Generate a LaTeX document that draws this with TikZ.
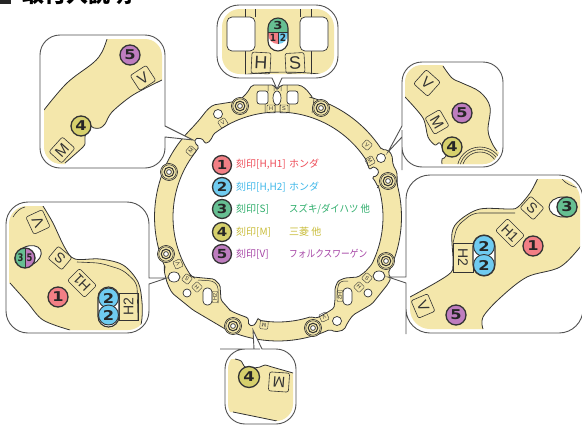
\documentclass[tikz,border=0pt]{standalone}
\usepackage{fontspec}
\usepackage{graphicx}
\setmainfont{Liberation Sans}
\newfontfamily\jp{Noto Sans CJK JP}
\newfontfamily\dgf{DejaVu Sans}
\definecolor{yel}{HTML}{F4E7AB}
\definecolor{ink}{HTML}{333333}
\definecolor{cA}{HTML}{F27F85}
\definecolor{cB}{HTML}{6FCBF0}
\definecolor{cC}{HTML}{66BF92}
\definecolor{cD}{HTML}{D6D06C}
\definecolor{cE}{HTML}{BE7DBF}
\definecolor{tA}{HTML}{EE4C58}
\definecolor{tB}{HTML}{3FB8EA}
\definecolor{tC}{HTML}{2FAE6C}
\definecolor{tD}{HTML}{C9BD3A}
\definecolor{tE}{HTML}{A645A6}
\newcommand\dg[2][1.2]{\scalebox{#1}[1]{\dgf\bfseries #2}}
\def\ox{278+123.5*cos(\t)}
\def\oy{217+124*sin(\t)}
\def\ix{278+105*cos(\t)}
\def\iy{217+105*sin(\t)}
\newcommand\screw[1]{\draw[ink,line width=.7,fill=yel] (#1) circle[radius=8.5];
 \draw[ink,line width=.5] (#1) circle[radius=7.2];
 \draw[ink,line width=1] (#1) circle[radius=4.8];
 \draw[ink,line width=.7,fill=white] (#1) circle[radius=2.4];}
\tikzset{
 rc/.style={samples=30,variable=\t},
 EAa/.style={insert path={-- plot[smooth,tension=.6] coordinates {(107,39) (102,52) (93,63) (67,83) (44,110)}}},
 EAb/.style={insert path={-- plot[smooth,tension=.5] coordinates {(65,163) (83,147) (85,142) (85,137) (88,125) (94,128) (100,128) (105,124) (112,112) (133,95) (162,80)}}},
 ECa/.style={insert path={-- plot[smooth,tension=.6] coordinates {(443,66) (452,78) (462,83) (480,92) (490,107) (488,130) (492,143) (497,151)}}},
 ECb/.style={insert path={-- plot[smooth,tension=.5] coordinates {(442,164) (442,159) (446,156) (440,143) (435,145) (428,137) (423,118) (405,97)}}},
 EDa/.style={insert path={-- plot[smooth,tension=.55] coordinates {(538,178) (530,193) (518,207) (510,209) (480,209) (460,220) (452,233) (453,263) (448,275) (410,297)}}},
 EDb/.style={insert path={-- plot[smooth,tension=.55] coordinates {(483,329) (483,317) (500,298) (527,277) (560,267) (582,245) (590,235)}}},
 EEa/.style={insert path={-- plot[smooth,tension=.55] coordinates {(43,206) (53,223) (65,248) (75,259) (100,259) (123,265) (138,282) (142,302) (142,318) (140,330)}}},
 EEb/.style={insert path={-- plot[smooth,tension=.55] coordinates {(70,330) (43,320) (27,302) (10,283)}}},
 EFa/.style={insert path={-- plot[smooth,tension=.5] coordinates {(235,359) (241,361) (245,367) (252,368) (260,367) (265,365) (272,367) (293,373)}}},
 box/.style={draw=ink,line width=.6,rounded corners=2pt,inner sep=0pt,font=\fontsize{15}{15}\selectfont,text=ink},
 tiny/.style={draw=ink,line width=.4,rounded corners=1pt,inner sep=0pt,minimum size=8pt,font=\fontsize{5.5}{5.5}\selectfont,text=ink},
 co/.style={draw=ink!85,line width=.9,fill=white},
 edge/.style={draw=ink,line width=.8},
 hole/.style={draw=ink,line width=.7,fill=white},
 bd/.style={circle,draw=ink,line width=1.3,inner sep=0pt,minimum size=20pt,text=black!85,font=\fontsize{13.5}{13.5}\selectfont},
 lg/.style={bd,minimum size=19pt,font=\fontsize{12.5}{12.5}\selectfont},
 ltx/.style={anchor=west,inner sep=0pt,font=\jp\fontsize{10}{10}\selectfont},
}
\begin{document}
\begin{tikzpicture}[x=1pt,y=-1pt]
\useasboundingbox (0,0) rectangle (582,426);
\clip (0,0) rectangle (582,426);
\fill[white] (0,0) rectangle (582,426);
% title
\node[anchor=west,inner sep=0pt,font=\jp\bfseries\fontsize{22}{22}\selectfont] (title) at (22,-6) {取付入説明};
\fill[black!85] (0,-6) rectangle (11,4);
% ring
\draw[ink,line width=.8,fill=yel,rounded corners=2pt] (252,85) -- (274,85) -- (277,90) -- (281,85) -- (300,85) -- (306,89) -- (313,98) -- plot[rc,domain=286:327] ({\ox},{\oy}) -- (388,150) -- (392,155) -- (393,165) -- (397,172) -- plot[rc,domain=345:387] ({\ox},{\oy}) -- (391,278) -- (388,284) -- (372,304) -- (353,315) -- (348,322) -- (344,330) -- (335,332) -- plot[rc,domain=65:115] ({\ox},{\oy}) -- (193,310) -- (172,293) -- (168,285) -- (166,279) -- (164,270) -- plot[rc,domain=156:226] ({\ox},{\oy}) -- (200,119) -- (207,110) -- (213,105) -- (232,102) -- (240,100) -- (247,93) -- cycle;
\draw[ink,line width=.8,fill=white,rounded corners=1.5pt] (212,138) -- plot[rc,domain=232:328] ({\ix},{\iy}) -- (368,166) -- (370,170) -- (372,167) -- (375,167) -- (379,171) -- (377,176) -- (372,177) -- (375,181) -- (378,187) -- plot[rc,domain=343:387] ({\ix},{\iy}) -- (365,272) -- (358,277) -- (345,278) -- (338,281) -- (335,288) -- (335,300) -- (334,308) -- (328,312) -- (317,318) -- plot[rc,domain=72:100] ({\ix},{\iy}) -- (258,318) -- (256,323) -- (253,326) -- (249,325) -- (248,322) -- (249,319) -- plot[rc,domain=108:117] ({\ix},{\iy}) -- (221,300) -- (220,285) -- (214,279) -- (193,277) -- plot[rc,domain=146:218] ({\ix},{\iy}) -- (199,147) -- (195,143) -- (195,139) -- (199,138) -- (204,140) -- (204,143) -- (208,143) -- cycle;
% ring detail lines
\draw[ink,line width=.5] (268,85)--(268,91) (274,85)--(274,91) (281,85)--(281,91) (287,85)--(287,91)
 (265,104)--(265,113) (275,104)--(275,113) (280,104)--(280,113) (289,104)--(289,113)
 (245,100)--(246,113) (314,99)--(312,113);
\draw[ink,line width=.5,rounded corners=3pt] (198,280)--(213,281)--(218,286)--(218,303);
\draw[ink,line width=.5,rounded corners=3pt] (348,281)--(341,281)--(338,285)--(337,298);
% holes
\draw[hole,rounded corners=2.5pt] (257,91) rectangle (268,104);
\draw[hole,rounded corners=2.5pt] (287,91) rectangle (298,104);
\draw[hole] (277,98) ellipse[x radius=4,y radius=7];
\draw[hole] (218,114) circle[radius=4.5];
\draw[hole] (381,158) circle[radius=4.5];
\draw[hole] (174,277) ellipse[x radius=6,y radius=5];
\draw[hole] (187,293) circle[radius=4];
\draw[hole] (379,276) ellipse[x radius=6,y radius=5];
\draw[hole] (368,293) circle[radius=4];
\draw[hole] (337,321) circle[radius=4.5];
\draw[hole,rounded corners=4pt] (203,288) rectangle (212,305);
\draw[hole,rounded corners=4pt] (343,288) rectangle (352,305);
% screws
\screw{240,106} \screw{321,108} \screw{388,181} \screw{386,261} \screw{313,328} \screw{233,326} \screw{166,254} \screw{169,172}
% small ring labels
\node[tiny,rotate=33] (rV1) at (223,123) {V};
\node[tiny,rotate=48] (rM1) at (191,151) {M};
\node[tiny] (rH) at (271,109) {H};
\node[tiny] (rS) at (284,109) {S};
\node[tiny,rotate=-42] (rV2) at (367,145) {V};
\node[tiny,rotate=-60] (rM2) at (370,161) {M};
\node[tiny,rotate=175] (rM3) at (264,325) {M};
\node[tiny,rotate=-155] (rV3) at (324,317) {V};
\node[tiny,rotate=115] (rV4) at (178,264) {V};
\node[tiny,rotate=140] (rS4) at (187,279) {S};
\node[tiny,rotate=135] (rH4) at (197,287) {H};
\node[tiny,rotate=90,minimum height=6pt,minimum width=11pt] (rH24) at (215,297) {H2};
\node[tiny,rotate=-42] (rS5) at (367,278) {S};
\node[tiny,rotate=-45] (rH5) at (359,287) {H};
\node[tiny,rotate=-90,minimum height=6pt,minimum width=11pt] (rH25) at (340,296) {H2};
% callout 1 (top left)
\draw[co,rounded corners=20pt] (100,35) -- (165,35) -- (165,100) [sharp corners] -- (165,126) -- (193,140) -- (165,137) -- (165,150) [rounded corners=20pt] -- (165,168) -- (40,168) -- (40,35) -- cycle;
\begin{scope}
\clip[rounded corners=17pt] (44,39) rectangle (162,164);
\fill[yel] (107,39) [EAa] -- (30,110) -- (30,180) -- (65,180) -- (65,163) [EAb] -- (175,80) -- (175,30) -- (107,30) -- cycle;
\draw[edge] (107,39) [EAa]; \draw[edge] (65,163) [EAb];
\end{scope}
\node[bd,fill=cE] (a5) at (130,55) {\dg{5}};
\node[box,rotate=33,minimum width=19pt,minimum height=18pt] (aV) at (143,78) {V};
\node[bd,fill=cD] (a4) at (81,126) {\dg{4}};
\node[box,rotate=48,minimum width=20pt,minimum height=17pt] (aM) at (62,150) {M};
% callout 2 (top)
\draw[co,rounded corners=22pt] (280,5) -- (338,5) -- (338,78) [sharp corners] -- (282,78) -- (277,89) -- (272,78) [rounded corners=22pt] -- (217,78) -- (217,5) -- cycle;
\begin{scope}
\clip[rounded corners=18pt] (222,9) rectangle (334,74);
\fill[yel] (215,5) rectangle (340,80);
\draw[ink,line width=.6] (245,5)--(245,17) (255,5)--(255,17) (300,5)--(300,17) (311,5)--(311,17)
 (245,51)--(245,75) (311,51)--(311,75);
\draw[ink,line width=.7] (237,76) .. controls (260,71) and (300,71) .. (327,75);
\end{scope}
\draw[hole,rounded corners=5pt] (227,17) rectangle (255,51);
\draw[hole,rounded corners=5pt] (300,17) rectangle (328,51);
\begin{scope}
\clip[rounded corners=10pt] (268,18) rectangle (288,51);
\fill[white] (268,18) rectangle (288,51);
\clip[rounded corners=10pt] (268,18) rectangle (288,44);
\fill[cC] (268,18) rectangle (288,32);
\fill[cA] (268,32) rectangle (278,44);
\fill[cB] (278,32) rectangle (288,44);
\draw[ink,line width=.7] (268,32)--(288,32) (278,32)--(278,44) (268,44)--(288,44);
\end{scope}
\draw[ink,line width=1.1,rounded corners=10pt] (268,18) rectangle (288,51);
\node[inner sep=0pt,text=black!85,font=\fontsize{11}{11}\selectfont] (t3) at (278,25) {\dg{3}};
\node[inner sep=0pt,text=black!85,font=\fontsize{10}{10}\selectfont] (t1) at (273,38) {\dg[.9]{1}};
\node[inner sep=0pt,text=black!85,font=\fontsize{10}{10}\selectfont] (t2) at (283,38) {\dg[.9]{2}};
\node[box,rotate=-3,minimum width=19pt,minimum height=21pt,font=\fontsize{18}{18}\selectfont] (bH) at (261,63) {H};
\node[box,rotate=3,minimum width=19pt,minimum height=20pt,font=\fontsize{18}{18}\selectfont] (bS) at (295,63) {S};
% callout 3 (upper right)
\draw[co,rounded corners=20pt] (450,62) -- (503,62) -- (503,167) -- (402,167) -- (402,150) [sharp corners] -- (402,137) -- (388,152) -- (402,126) -- (402,100) [rounded corners=20pt] -- (402,62) -- cycle;
\begin{scope}
\clip[rounded corners=17pt] (405,65) rectangle (500,164);
\fill[yel] (443,66) [ECa] -- (510,160) -- (510,175) -- (442,175) -- (442,164) [ECb] -- (395,97) -- (395,55) -- (443,55) -- cycle;
\draw[edge] (443,66) [ECa]; \draw[edge] (442,164) [ECb];
\draw[ink,line width=.6,fill=yel] (480,170) circle[radius=23];
\draw[ink,line width=.6] (480,170) circle[radius=20.5];
\draw[ink,line width=.6] (480,170) circle[radius=18];
\end{scope}
\node[box,rotate=-42,minimum width=19pt,minimum height=19pt] (cV) at (427,83) {V};
\node[box,rotate=-60,minimum width=19pt,minimum height=17pt] (cM) at (437,122) {M};
\node[bd,fill=cE] (c5) at (462,113) {\dg{5}};
\node[bd,fill=cD] (c4) at (452,147) {\dg{4}};
% callout 4 (right)
\draw[co,rounded corners=24pt] (500,175) -- (583,175) -- (583,333) -- (406,333) -- (406,310) [sharp corners] -- (406,283) -- (388,277) -- (406,277) -- (406,250) [rounded corners=24pt] -- (406,175) -- cycle;
\begin{scope}
\clip[rounded corners=20pt] (410,179) rectangle (580,329);
\fill[yel] (538,178) [EDa] -- (400,297) -- (400,335) -- (480,335) -- (483,329) [EDb] -- (590,170) -- (538,170) -- cycle;
\draw[edge] (538,178) [EDa]; \draw[edge] (483,329) [EDb];
\draw[ink,line width=.6] (562,179) .. controls (566,184) and (572,186) .. (578,188);
\end{scope}
\draw[ink,line width=.6,rounded corners=6pt] (453,243) -- (457,226) -- (473,213) -- (515,213);
\node[draw=ink,line width=.6,inner sep=0pt,minimum width=29pt,minimum height=20pt,rotate=-90,font=\fontsize{14}{14}\selectfont,text=ink] (dH2) at (463,257.5) {H2};
\draw[ink,line width=1.1,fill=white,rounded corners=11pt] (473,235) rectangle (495,276);
\node[bd,fill=cB,minimum size=21pt,line width=.9] (d2a) at (484,246) {\dg{2}};
\node[bd,fill=cB,minimum size=21pt,line width=.9] (d2b) at (484,265) {\dg{2}};
\node[box,rotate=-45,minimum width=24pt,minimum height=17pt,font=\fontsize{14}{14}\selectfont] (dH1) at (510,233) {H1};
\node[box,rotate=-42,minimum width=18pt,minimum height=16pt,font=\fontsize{14}{14}\selectfont] (dS) at (532,208) {S};
\node[bd,fill=cA] (d1) at (533,246) {\dg{1}};
\draw[hole,line width=.9] (563,207) ellipse[x radius=14,y radius=10];
\node[bd,fill=cC] (d3) at (567,207) {\dg{3}};
\node[box,rotate=-67,minimum width=19pt,minimum height=18pt] (dV) at (423,306) {V};
\node[bd,fill=cE] (d5) at (456,315) {\dg{5}};
% callout 5 (left)
\draw[co,rounded corners=22pt] (60,202) -- (149,202) -- (149,250) [sharp corners] -- (149,278) -- (167,278) -- (149,284) -- (149,300) [rounded corners=22pt] -- (149,333) -- (6,333) -- (6,202) -- cycle;
\begin{scope}
\clip[rounded corners=18pt] (9,206) rectangle (146,330);
\fill[yel] (43,206) [EEa] -- (142,340) -- (70,340) -- (70,330) [EEb] -- (0,283) -- (0,195) -- (43,195) -- cycle;
\draw[edge] (43,206) [EEa]; \draw[edge] (70,330) [EEb];
\draw[ink,line width=.6] (13,217) .. controls (16,212) and (20,208) .. (25,207);
\end{scope}
\draw[ink,line width=.6,rounded corners=6pt] (77,262) -- (100,263) -- (123,270) -- (137,283) -- (138,320);
\node[box,rotate=115,minimum width=19pt,minimum height=18pt] (eV) at (38,222) {V};
\node[box,rotate=140,minimum width=18pt,minimum height=16pt,font=\fontsize{14}{14}\selectfont] (eS) at (60,258) {S};
\node[box,rotate=135,minimum width=24pt,minimum height=17pt,font=\fontsize{14}{14}\selectfont] (eH1) at (82,283) {H1};
\node[bd,fill=cA] (e1) at (58,297) {\dg{1}};
\node[draw=ink,line width=.6,inner sep=0pt,minimum width=27pt,minimum height=19pt,rotate=90,font=\fontsize{14}{14}\selectfont,text=ink] (eH2) at (128.5,306.5) {H2};
\draw[ink,line width=1.1,fill=white,rounded corners=10.5pt] (98,287) rectangle (119,327);
\node[bd,fill=cB,minimum size=20pt,line width=.9] (e2a) at (108.5,298) {\dg{2}};
\node[bd,fill=cB,minimum size=20pt,line width=.9] (e2b) at (108.5,315) {\dg{2}};
\draw[hole,line width=.9,rotate around={25:(28,256)}] (28,256) ellipse[x radius=14,y radius=9.5];
\begin{scope}
\clip (25,258) circle[radius=10];
\fill[cC] (15,248) rectangle (25,268);
\fill[cE] (25,248) rectangle (35,268);
\draw[ink,line width=.6] (25,248)--(25,268);
\end{scope}
\draw[ink,line width=1.3] (25,258) circle[radius=10];
\node[inner sep=0pt,text=black!85,font=\fontsize{10.5}{10.5}\selectfont] (e3) at (20.5,258) {\dg[.8]{3}};
\node[inner sep=0pt,text=black!85,font=\fontsize{10.5}{10.5}\selectfont] (e5) at (29.5,258) {\dg[.8]{5}};
% callout 6 (bottom)
\draw[co,rounded corners=20pt] (240,349) [sharp corners] -- (254,349) -- (253,330) -- (262,349) -- (275,349) [rounded corners=20pt] -- (296,349) -- (296,424) -- (225,424) -- (225,349) -- cycle;
\begin{scope}
\clip[rounded corners=17pt] (228,352) rectangle (293,421);
\fill[yel] (235,359) [EFa] -- (300,373) -- (300,430) -- (277,421) -- (233,412) -- (220,412) -- (220,359) -- cycle;
\draw[edge] (235,359) [EFa];
\draw[edge] (233,412) -- (277,421);
\end{scope}
\node[bd,fill=cD,minimum size=21pt] (f4) at (249,377) {\dg{4}};
\node[box,rotate=176,minimum width=20pt,minimum height=19pt] (fM) at (279,382) {M};
% legend
\node[lg,fill=cA] (l1) at (222,165) {\dg{1}};
\node[lg,fill=cB] (l2) at (222,187) {\dg{2}};
\node[lg,fill=cC] (l3) at (222,209) {\dg{3}};
\node[lg,fill=cD] (l4) at (222,232) {\dg{4}};
\node[lg,fill=cE] (l5) at (222,254) {\dg{5}};
\node[ltx,text=tA] (p1) at (236,164) {刻印[H,H1]};
\node[ltx,text=tA] (q1) at (289,164) {ホンダ};
\node[ltx,text=tB] (p2) at (236,187) {刻印[H,H2]};
\node[ltx,text=tB] (q2) at (289,187) {ホンダ};
\node[ltx,text=tC] (p3) at (236,209) {刻印[S]};
\node[ltx,text=tC] (q3) at (289,209) {\scalebox{.94}[1]{スズキ/ダイハツ 他}};
\node[ltx,text=tD] (p4) at (236,232) {刻印[M]};
\node[ltx,text=tD] (q4) at (289,232) {三菱 他};
\node[ltx,text=tE] (p5) at (236,254) {刻印[V]};
\node[ltx,text=tE] (q5) at (289,254) {\scalebox{.87}[1]{フォルクスワーゲン}};
\end{tikzpicture}
\end{document}
